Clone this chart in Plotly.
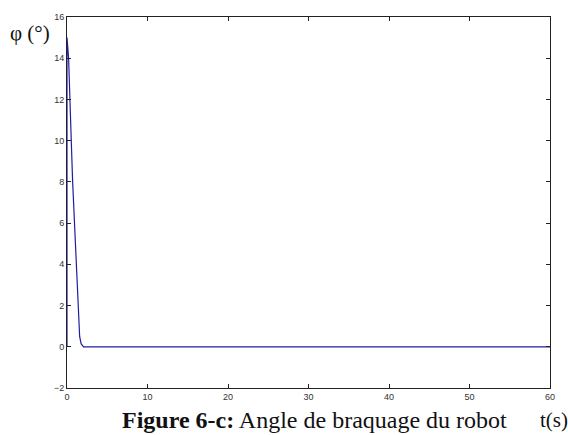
import plotly.graph_objects as go

# Data
t_values = [0, 0, 0.2, 0.41, 0.53, 0.7, 0.95, 1.16, 1.37, 1.57, 1.75, 2.06, 60]
phi_values = [0, 15, 14, 12, 10, 8, 6, 4, 2, 0.5, 0.15, 0, 0]
x_ticks = [0, 10, 20, 30, 40, 50, 60]
y_ticks = [-2, 0, 2, 4, 6, 8, 10, 12, 14, 16]

W, H = 568, 435
L, R, T, B = 66.5, 18, 11.7, 47.3
pw = W - L - R
ph = H - T - B

def px(xp):
    return (xp - L) / pw

def py(yp):
    return (H - B - yp) / ph

fig = go.Figure()
fig.add_trace(go.Scatter(x=t_values, y=phi_values, mode="lines",
                         line=dict(color="rgb(30,30,165)", width=1.2),
                         showlegend=False, hoverinfo="skip"))

axis_common = dict(showline=True, linecolor="#222", linewidth=1, mirror="ticks",
                   ticks="inside", ticklen=4, tickcolor="#222", tickwidth=1,
                   showgrid=False, zeroline=False,
                   tickfont=dict(family="Liberation Sans, Arial", size=9, color="#333"))

fig.update_xaxes(range=[0, 60], tickvals=x_ticks, **axis_common)
fig.update_yaxes(range=[-2, 16], tickvals=y_ticks, **axis_common)

fig.update_layout(
    width=W, height=H,
    margin=dict(l=L, r=R, t=T, b=B),
    paper_bgcolor="white", plot_bgcolor="white",
    annotations=[
        dict(text="φ (°)", xref="paper", yref="paper", x=px(29), y=py(28),
             xanchor="center", yanchor="middle", showarrow=False,
             font=dict(family="Liberation Serif, Times New Roman", size=21, color="#111")),
        dict(text="t(s)", xref="paper", yref="paper", x=px(554), y=py(420),
             xanchor="center", yanchor="middle", showarrow=False,
             font=dict(family="Liberation Serif, Times New Roman", size=21, color="#111")),
        dict(text="<b>Figure 6-c:</b> Angle de braquage du robot", xref="paper", yref="paper",
             x=px(314), y=py(435), xanchor="center", yanchor="bottom", showarrow=False,
             font=dict(family="Liberation Serif, Times New Roman", size=24, color="#111")),
    ],
)

fig.write_html("out.html")
